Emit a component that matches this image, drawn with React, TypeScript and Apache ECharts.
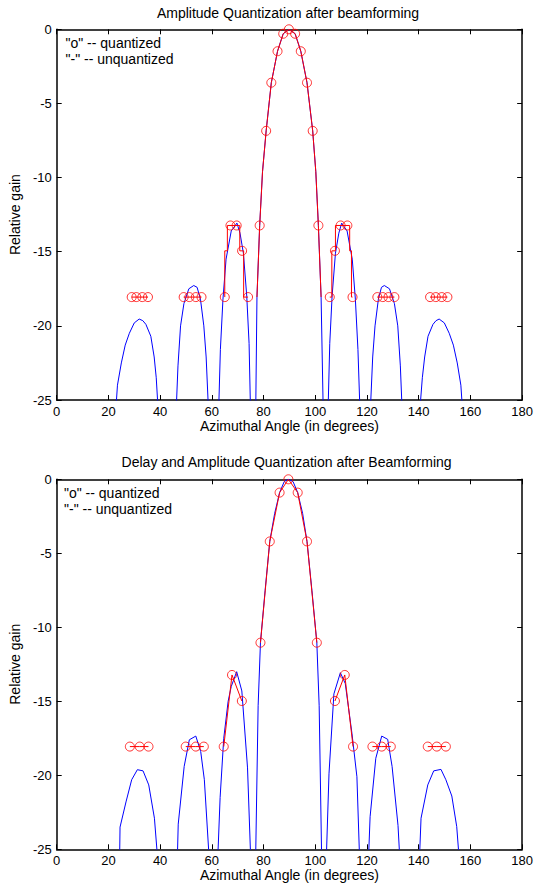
import React, { useEffect, useRef } from "react";
import * as echarts from "echarts";

const FONT = '"Liberation Sans", Arial, Helvetica, sans-serif';

// ---------- axis ticks ----------
const xTicks = { min: 0, max: 180, interval: 20 };
const yTicks = { min: -25, max: 0, interval: 5 };

// ---------- TOP PANEL: unquantized (blue) lobes ----------
const topUnqL1Angle = [23.0, 23.5, 25.0, 26.5, 28.1, 30.0, 31.9, 33.3, 34.5, 36.4, 37.7, 38.5, 39.1];
const topUnqL1Gain = [-25.3, -24.0, -22.5, -21.3, -20.5, -19.8, -19.54, -19.65, -19.9, -20.7, -22.1, -23.5, -25.3];
const topUnqL2Angle = [46.3, 46.9, 47.9, 49.2, 51.1, 53.0, 54.3, 55.6, 56.9, 57.8, 58.6];
const topUnqL2Gain = [-25.3, -22.7, -20.0, -18.5, -17.5, -17.28, -17.4, -18.2, -20.0, -22.1, -25.3];
const topUnqL3Angle = [62.7, 63.3, 64.3, 65.5, 67.5, 69.7, 70.9, 72.2, 73.5, 74.4, 74.9];
const topUnqL3Gain = [-25.3, -21.6, -18.2, -15.5, -13.6, -13.07, -13.75, -15.1, -18.0, -21.2, -25.3];
const topUnqMainAngle = [76.95, 77.45, 78.5, 79.6, 81.0, 83.0, 85.4, 87.6, 89.8, 92.2, 94.4, 96.8, 99.0, 100.2, 101.2, 102.25, 103.1];
const topUnqMainGain = [-26, -18.06, -13.23, -9.6, -6.85, -3.6, -1.48, -0.3, 0, -0.3, -1.48, -3.6, -6.85, -9.6, -13.23, -18.06, -26];
const topUnqR1Angle = [105.0, 105.6, 106.5, 107.8, 109.1, 110.2, 112.3, 114.3, 115.5, 116.5, 117.2];
const topUnqR1Gain = [-25.3, -21.2, -18.0, -15.1, -13.75, -13.07, -13.6, -15.5, -18.2, -21.6, -25.3];
const topUnqR2Angle = [121.4, 122.2, 123.1, 124.4, 125.6, 126.7, 128.7, 130.6, 131.9, 132.9, 133.5];
const topUnqR2Gain = [-25.3, -22.1, -20.0, -18.2, -17.4, -17.28, -17.5, -18.5, -20.0, -22.7, -25.3];
const topUnqR3Angle = [140.6, 141.4, 142.3, 143.6, 145.5, 146.7, 147.9, 149.9, 151.8, 153.4, 154.9, 156.3, 156.8];
const topUnqR3Gain = [-25.3, -23.5, -22.1, -20.7, -19.9, -19.65, -19.54, -19.8, -20.5, -21.3, -22.5, -24.0, -25.3];

// ---------- TOP PANEL: quantized (red) line segments ----------
const topQLineAAngle = [29.0, 35.3];
const topQLineAGain = [-18.06, -18.06];
const topQLineBAngle = [49.1, 56.0];
const topQLineBGain = [-18.06, -18.06];
const topQLineCAngle = [65.0, 65.0, 66.0, 66.0, 70.8, 70.8, 72.3, 72.3, 74.0];
const topQLineCGain = [-18.06, -14.94, -14.94, -13.23, -13.23, -14.94, -14.94, -18.06, -18.06];
const topQLineDAngle = [77.45, 78.5, 79.6, 81.0, 83.0, 85.4, 87.6, 89.8, 92.2, 94.4, 96.8, 99.0, 100.2, 101.2, 102.25];
const topQLineDGain = [-18.06, -13.23, -9.6, -6.85, -3.6, -1.48, -0.3, 0, -0.3, -1.48, -3.6, -6.85, -9.6, -13.23, -18.06];
const topQLineEAngle = [105.6, 106.4, 106.4, 107.8, 107.8, 113.3, 113.3, 114.0, 114.0, 114.4];
const topQLineEGain = [-18.06, -18.06, -14.94, -14.94, -13.23, -13.23, -14.94, -14.94, -18.06, -18.06];
const topQLineFAngle = [124.0, 130.6];
const topQLineFGain = [-18.06, -18.06];
const topQLineGAngle = [144.4, 151.1];
const topQLineGGain = [-18.06, -18.06];

// ---------- TOP PANEL: quantized sample markers ----------
const topQMarkAngle = [
  29.0, 30.8, 33.1, 35.3, 49.1, 51.3, 53.8, 56.0, 65.0, 67.2, 69.6, 71.7, 74.0,
  78.5, 81.0, 83.0, 85.4, 87.6, 89.8, 92.2, 94.4, 96.8, 99.0, 101.2,
  105.6, 107.6, 109.8, 112.4, 114.4, 124.0, 126.1, 128.3, 130.6, 144.4, 146.6, 148.9, 151.1,
];
const topQMarkGain = [
  -18.06, -18.06, -18.06, -18.06, -18.06, -18.06, -18.06, -18.06, -18.06, -13.23, -13.23, -14.94, -18.06,
  -13.23, -6.85, -3.6, -1.48, -0.3, 0, -0.3, -1.48, -3.6, -6.85, -13.23,
  -18.06, -14.94, -13.23, -13.23, -18.06, -18.06, -18.06, -18.06, -18.06, -18.06, -18.06, -18.06, -18.06,
];

// ---------- BOTTOM PANEL: unquantized (blue) lobes ----------
const botUnqL1Angle = [24.3, 24.5, 26.8, 29.0, 31.2, 33.4, 35.6, 37.8, 39.2];
const botUnqL1Gain = [-26, -23.5, -21.8, -20.3, -19.62, -19.7, -20.65, -22.9, -26];
const botUnqL2Angle = [46.6, 47.0, 49.3, 51.3, 53.8, 55.7, 57.1, 59.1];
const botUnqL2Gain = [-26, -23.3, -19.4, -17.6, -17.35, -18.4, -20.3, -26];
const botUnqL3Angle = [62.2, 63.2, 64.6, 66.3, 67.5, 69.6, 71.6, 73.8, 75.1];
const botUnqL3Gain = [-26, -21.5, -17.5, -15.0, -14.0, -13.0, -14.3, -19.5, -26];
const botUnqMainAngle = [76.9, 77.9, 78.8, 80.6, 82.4, 84.3, 86.2, 88.0, 89.6, 91.4, 93.2, 95.1, 96.8, 98.7, 100.6, 101.5, 102.5];
const botUnqMainGain = [-26, -15.3, -11.04, -7.5, -4.2, -2.3, -0.9, -0.15, 0, -0.15, -0.9, -2.3, -4.2, -7.5, -11.04, -15.3, -26];
const botUnqR1Angle = [104.2, 105.3, 107.2, 109.7, 111.6, 114.2, 116.1, 117.2];
const botUnqR1Gain = [-26, -19.9, -14.5, -13.07, -13.8, -17.2, -20.1, -26];
const botUnqR2Angle = [120.5, 121.2, 123.4, 125.7, 128.0, 129.7, 132.0, 132.8];
const botUnqR2Gain = [-26, -22.8, -18.85, -17.35, -17.57, -19.4, -23.4, -26];
const botUnqR3Angle = [140.2, 140.9, 143.5, 145.8, 148.6, 150.5, 152.8, 154.7, 155.8];
const botUnqR3Gain = [-26, -22.9, -20.65, -19.7, -19.6, -20.3, -21.4, -23.47, -26];

// ---------- BOTTOM PANEL: quantized samples (red, joined in groups) ----------
const botQAAngle = [28.3, 32.1, 35.5];
const botQAGain = [-18.06, -18.06, -18.06];
const botQBAngle = [49.9, 53.8, 56.9];
const botQBGain = [-18.06, -18.06, -18.06];
const botQCAngle = [64.6, 67.8, 71.6];
const botQCGain = [-18.06, -13.22, -14.98];
const botQDAngle = [78.8, 82.4, 86.2, 89.6, 93.2, 96.8, 100.6];
const botQDGain = [-11.04, -4.2, -0.9, 0, -0.9, -4.2, -11.04];
const botQEAngle = [107.6, 111.4, 114.6];
const botQEGain = [-14.98, -13.22, -18.06];
const botQFAngle = [122.1, 125.7, 129.2];
const botQFGain = [-18.06, -18.06, -18.06];
const botQGAngle = [143.5, 147.0, 150.5];
const botQGGain = [-18.06, -18.06, -18.06];

// ---------- texts ----------
const titles = ["Amplitude Quantization after beamforming", "Delay and Amplitude Quantization after Beamforming"];
const xName = "Azimuthal Angle (in degrees)";
const yName = "Relative gain";
const noteLines = ['"o" -- quantized', '"-" -- unquantized'];

type Seg = [number[], number[]];
const joinSegs = (segs: Seg[]) => {
  const out: any[] = [];
  segs.forEach((s, k) => {
    if (k > 0) out.push(["-", "-"]);
    s[0].forEach((a, i) => out.push([a, s[1][i]]));
  });
  return out;
};
const pts = (a: number[], g: number[]) => a.map((v, i) => [v, g[i]]);

const BLUE = "#0000ff";
const RED = "#ff0000";

export default function App() {
  const ref = useRef<HTMLDivElement>(null);

  useEffect(() => {
    if (!ref.current) return;
    const chart = echarts.init(ref.current, undefined, { renderer: "svg" });

    const grids = [
      { left: 53, top: 29.3, width: 469.5, height: 370.7 },
      { left: 51, top: 479.3, width: 471.3, height: 370 },
    ];

    const axisCommon = {
      type: "value" as const,
      splitLine: { show: false },
      axisLine: { show: true, onZero: false, lineStyle: { color: "#000", width: 1.5 } },
      axisTick: { show: true, inside: true, length: 5, lineStyle: { color: "#000", width: 1 } },
    };
    const labelStyle = { color: "#000", fontSize: 13, fontFamily: FONT };
    const nameStyle = { color: "#000", fontSize: 14, fontFamily: FONT };

    const xAxes: any[] = [];
    const yAxes: any[] = [];
    [0, 1].forEach((g) => {
      xAxes.push({
        ...axisCommon,
        gridIndex: g,
        position: "bottom",
        ...xTicks,
        axisLabel: { ...labelStyle, margin: 5 },
        name: xName,
        nameLocation: "middle",
        nameGap: g === 0 ? 14 : 17,
        nameTextStyle: nameStyle,
      });
      xAxes.push({
        ...axisCommon,
        gridIndex: g,
        position: "top",
        ...xTicks,
        axisLabel: { show: false },
      });
      yAxes.push({
        ...axisCommon,
        gridIndex: g,
        position: "left",
        ...yTicks,
        axisLabel: { ...labelStyle, margin: 5 },
        name: yName,
        nameLocation: "middle",
        nameGap: 30,
        nameTextStyle: nameStyle,
      });
      yAxes.push({
        ...axisCommon,
        gridIndex: g,
        position: "right",
        ...yTicks,
        axisLabel: { show: false },
      });
    });

    const lineSeries = (data: any[], color: string, axis: number, z: number) => ({
      type: "line",
      xAxisIndex: axis * 2,
      yAxisIndex: axis * 2,
      data,
      showSymbol: false,
      symbol: "none",
      connectNulls: false,
      clip: true,
      lineStyle: { color, width: 1 },
      z,
    });
    const markSeries = (data: any[], axis: number) => ({
      type: "scatter",
      xAxisIndex: axis * 2,
      yAxisIndex: axis * 2,
      data,
      symbol: "circle",
      symbolSize: 9,
      clip: true,
      itemStyle: { color: "transparent", borderColor: RED, borderWidth: 1 },
      z: 5,
    });

    const topBlue = joinSegs([
      [topUnqL1Angle, topUnqL1Gain],
      [topUnqL2Angle, topUnqL2Gain],
      [topUnqL3Angle, topUnqL3Gain],
      [topUnqMainAngle, topUnqMainGain],
      [topUnqR1Angle, topUnqR1Gain],
      [topUnqR2Angle, topUnqR2Gain],
      [topUnqR3Angle, topUnqR3Gain],
    ]);
    const topRed = joinSegs([
      [topQLineAAngle, topQLineAGain],
      [topQLineBAngle, topQLineBGain],
      [topQLineCAngle, topQLineCGain],
      [topQLineDAngle, topQLineDGain],
      [topQLineEAngle, topQLineEGain],
      [topQLineFAngle, topQLineFGain],
      [topQLineGAngle, topQLineGGain],
    ]);
    const topMarks = pts(topQMarkAngle, topQMarkGain);

    const botBlue = joinSegs([
      [botUnqL1Angle, botUnqL1Gain],
      [botUnqL2Angle, botUnqL2Gain],
      [botUnqL3Angle, botUnqL3Gain],
      [botUnqMainAngle, botUnqMainGain],
      [botUnqR1Angle, botUnqR1Gain],
      [botUnqR2Angle, botUnqR2Gain],
      [botUnqR3Angle, botUnqR3Gain],
    ]);
    const botSegs: Seg[] = [
      [botQAAngle, botQAGain],
      [botQBAngle, botQBGain],
      [botQCAngle, botQCGain],
      [botQDAngle, botQDGain],
      [botQEAngle, botQEGain],
      [botQFAngle, botQFGain],
      [botQGAngle, botQGGain],
    ];
    const botRed = joinSegs(botSegs);
    const botMarks: any[] = [];
    botSegs.forEach((s) => s[0].forEach((a, i) => botMarks.push([a, s[1][i]])));

    const textEl = (x: number, y: number, text: string, align: string) => ({
      type: "text",
      x,
      y,
      silent: true,
      style: {
        text,
        fill: "#000",
        fontSize: 14,
        fontFamily: FONT,
        align,
        verticalAlign: "middle",
      },
    });

    chart.setOption({
      animation: false,
      backgroundColor: "#fff",
      grid: grids,
      xAxis: xAxes,
      yAxis: yAxes,
      series: [
        lineSeries(topBlue, BLUE, 0, 2),
        lineSeries(topRed, RED, 0, 3),
        markSeries(topMarks, 0),
        lineSeries(botBlue, BLUE, 1, 2),
        lineSeries(botRed, RED, 1, 3),
        markSeries(botMarks, 1),
      ],
      graphic: [
        textEl(288, 13.3, titles[0], "center"),
        textEl(286.6, 462, titles[1], "center"),
        textEl(65.5, 43.3, noteLines[0], "left"),
        textEl(65.5, 59, noteLines[1], "left"),
        textEl(64, 493.3, noteLines[0], "left"),
        textEl(64, 508.7, noteLines[1], "left"),
      ],
    });

    return () => chart.dispose();
  }, []);

  return (
    <div
      ref={ref}
      style={{ position: "absolute", left: 0, top: 0, width: 536, height: 891, background: "#fff" }}
    />
  );
}
